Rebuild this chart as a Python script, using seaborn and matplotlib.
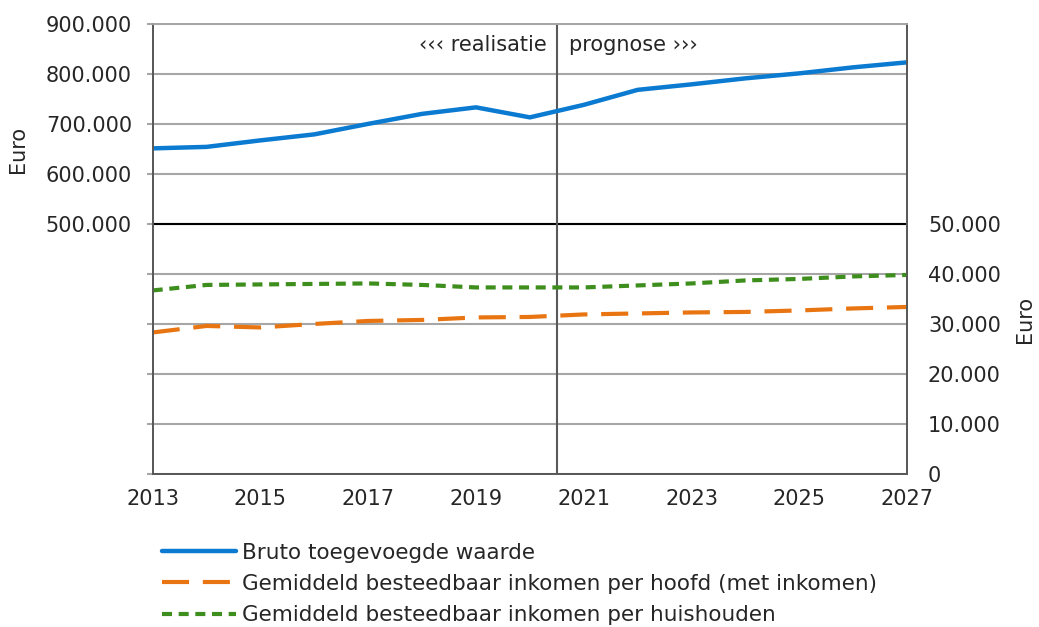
import pandas as pd
import matplotlib
matplotlib.use('Agg')
import matplotlib.pyplot as plt
import seaborn as sns

years = list(range(2013, 2028))
bruto = [651000, 654000, 667000, 679000, 700000, 720000, 733000, 713000,
         738000, 768000, 779000, 791000, 801000, 813000, 823000]
per_hoofd = [28300, 29600, 29300, 30000, 30600, 30800, 31300, 31400,
             31900, 32100, 32300, 32400, 32700, 33100, 33400]
per_huishouden = [36700, 37800, 37900, 38000, 38100, 37800, 37300, 37300,
                  37300, 37700, 38100, 38700, 39000, 39500, 39800]

lbl_bruto = 'Bruto toegevoegde waarde'
lbl_hoofd = 'Gemiddeld besteedbaar inkomen per hoofd (met inkomen)'
lbl_huis = 'Gemiddeld besteedbaar inkomen per huishouden'

df = pd.DataFrame({'jaar': years, 'bruto': bruto, 'hoofd': per_hoofd, 'huis': per_huishouden})

sns.set_style('white')
plt.rcParams['font.family'] = ['DejaVu Sans']
plt.rcParams['font.size'] = 15
txt = '#262626'
grid_c = '#a6a6a6'
fs = 15


def nl(v):
    return f'{v:,.0f}'.replace(',', '.')


fig, ax = plt.subplots(figsize=(10.39, 6.27), dpi=100)
fig.subplots_adjust(left=0.147, right=0.873, top=0.962, bottom=0.244)
ax2 = ax.twinx()

sns.lineplot(data=df, x='jaar', y='bruto', ax=ax, color='#0b7ad1', lw=3.2,
             label=lbl_bruto, legend=False)
sns.lineplot(data=df, x='jaar', y='hoofd', ax=ax2, color='#e87511', lw=3.0,
             dashes=(6.5, 3.3), label=lbl_hoofd, legend=False)
sns.lineplot(data=df, x='jaar', y='huis', ax=ax2, color='#3e8e1d', lw=3.0,
             dashes=(2.4, 1.6), label=lbl_huis, legend=False)

ax.set_xlim(2013, 2027)
ax.set_ylim(0, 900000)
ax2.set_ylim(0, 90000)
ax.set_xticks(range(2013, 2028, 2))
ax.set_yticks(range(0, 900001, 100000))
ax.set_yticklabels([nl(v) if v >= 500000 else '' for v in range(0, 900001, 100000)])
ax2.set_yticks(range(0, 50001, 10000))
ax2.set_yticklabels([nl(v) for v in range(0, 50001, 10000)])

ax.yaxis.grid(True, color=grid_c, lw=1.5)
ax.set_axisbelow(True)
ax.axhline(500000, color='black', lw=1.5, zorder=1)
ax.axvline(2020.5, color='#595959', lw=1.5, zorder=1)

ax.tick_params(axis='y', length=4, width=1.5, color=grid_c, pad=11, labelcolor=txt, labelsize=fs)
ax.tick_params(axis='x', length=0, pad=11, labelcolor=txt, labelsize=fs)
ax2.tick_params(axis='y', length=0, pad=15, labelcolor=txt, labelsize=fs)
for a in (ax, ax2):
    for s in a.spines.values():
        s.set_color('#595959')
        s.set_linewidth(1.3)
    a.set_xlabel('')
    a.set_ylabel('')
ax.spines['top'].set_color(grid_c)
ax2.spines['top'].set_color(grid_c)

ax.annotate('\u2039\u2039\u2039 realisatie', xy=(2020.5, 1), xycoords=('data', 'axes fraction'),
            xytext=(-7, -15), textcoords='offset points', ha='right', va='center',
            color=txt, fontsize=fs)
ax.annotate('prognose \u203a\u203a\u203a', xy=(2020.5, 1), xycoords=('data', 'axes fraction'),
            xytext=(9, -15), textcoords='offset points', ha='left', va='center',
            color=txt, fontsize=fs)

fig.text(0.017, 0.762, 'Euro', rotation=90, ha='center', va='center', color=txt, fontsize=fs)
fig.text(0.987, 0.49, 'Euro', rotation=90, ha='center', va='center', color=txt, fontsize=fs)

h1, l1 = ax.get_legend_handles_labels()
h2, l2 = ax2.get_legend_handles_labels()
fig.legend(h1 + h2, l1 + l2, loc='upper left', bbox_to_anchor=(0.148, 0.148),
           frameon=False, fontsize=15.5, handlelength=3.4, handletextpad=0.3,
           labelspacing=0.52, borderaxespad=0, labelcolor=txt)

plt.savefig('out.png', dpi=100)
